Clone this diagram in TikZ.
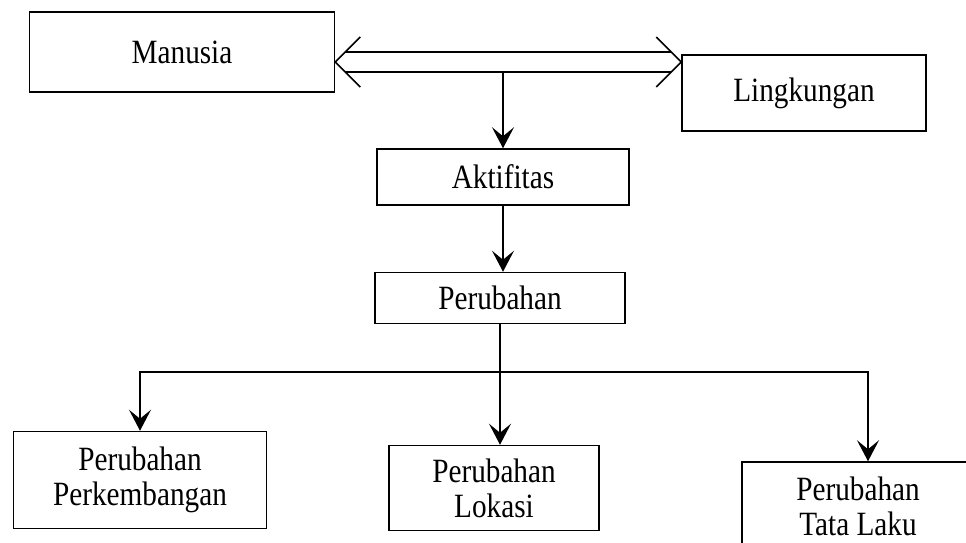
\documentclass[tikz,border=0pt]{standalone}
\usepackage{fontspec}
\setmainfont{Liberation Serif}[FakeStretch=0.86]
\usetikzlibrary{arrows.meta}
\begin{document}
\begin{tikzpicture}
    [
    x=1pt,y=-1pt,
    box/.style={draw,line width=1.5pt,inner sep=0pt,font=\fontsize{34}{35}\selectfont,align=center},
    down/.style={line width=1.5pt,-{Stealth[length=21pt,width=22pt,inset=9pt]}},
    dbl/.style={line width=1.5pt,line join=miter}
    ]
    \useasboundingbox (0,0) rectangle (966,543);
    \node (manusia) at (182,52) [box, minimum width=305pt, minimum height=80pt] {Manusia};
    \node (lingkungan) at (804,93) [box, minimum width=244pt, minimum height=76pt] {Lingkungan};
    \node (aktifitas) at (503,177) [box, minimum width=252pt, minimum height=56pt] {Aktifitas};
    \node (perubahan) at (500,298) [box, minimum width=250pt, minimum height=51pt] {Perubahan};
    \node (perkembangan) at (140,480) [box, minimum width=253pt, minimum height=97pt] {Perubahan\\Perkembangan};
    \node (lokasi) at (494,488) [box, minimum width=210pt, minimum height=85pt] {Perubahan\\Lokasi};
    \node (tatalaku) at (858,506) [box, minimum width=232pt, minimum height=88pt] {Perubahan\\Tata Laku};
    \coordinate (ujungkiri) at (manusia.east |- 0,62);
    \coordinate (ujungkanan) at (lingkungan.west |- 0,62);
    \coordinate (cabang) at (500,372);
    % panah ganda manusia - lingkungan
    \draw [dbl] ([shift={(10,-10)}]ujungkiri) to ([shift={(-10,-10)}]ujungkanan);
    \draw [dbl] ([shift={(10,10)}]ujungkiri) to ([shift={(-10,10)}]ujungkanan);
    \draw [dbl] ([shift={(25,-25)}]ujungkiri) -- (ujungkiri) -- ([shift={(25,25)}]ujungkiri);
    \draw [dbl] ([shift={(-25,-25)}]ujungkanan) -- (ujungkanan) -- ([shift={(-25,25)}]ujungkanan);
    \draw [down] (aktifitas.north |- 0,72) to (aktifitas.north);
    \draw [down] (aktifitas.south) to (aktifitas.south |- perubahan.north);
    \draw [down] (perubahan.south) to (perubahan.south |- lokasi.north);
    \draw [down] (cabang) -| (perkembangan.north);
    \draw [down] (cabang) -| ([xshift=10pt]tatalaku.north);
  \end{tikzpicture}
\end{document}
